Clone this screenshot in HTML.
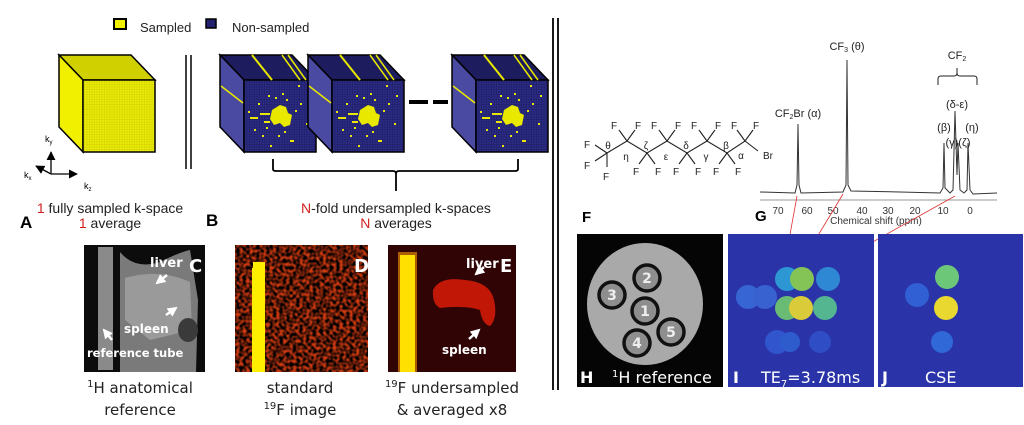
<!DOCTYPE html>
<html><head><meta charset="utf-8"><style>
html,body{margin:0;padding:0;background:#fff;}
svg{display:block;}
text{font-family:"Liberation Sans",sans-serif;}
.c{font-family:"DejaVu Sans","Liberation Sans",sans-serif;}
</style></head><body>
<svg width="1024" height="425" viewBox="0 0 1024 425" xmlns="http://www.w3.org/2000/svg">
<defs>
<pattern id="yg" width="2.5" height="2.5" patternUnits="userSpaceOnUse"><rect width="2.5" height="2.5" fill="#dada00"/><rect width="1.5" height="1.5" fill="#eeee10"/></pattern>
<pattern id="ng" width="2.5" height="2.5" patternUnits="userSpaceOnUse"><rect width="2.5" height="2.5" fill="#22226e"/><rect width="1.5" height="1.5" fill="#2e2e8a"/></pattern>
<filter id="noise" x="0" y="0" width="100%" height="100%">
<feTurbulence type="fractalNoise" baseFrequency="0.3" numOctaves="1" seed="3"/>
<feColorMatrix type="matrix" values="0 0 0 0 0  0 0 0 0 0  0 0 0 0 0  2.6 0 0 0 -0.75"/>
</filter>
<g id="nc">
<polygon points="0,0 72,0 96,25 24,25" fill="#1c1c5e" stroke="#000" stroke-width="1.5"/>
<polygon points="0,0 24,25 24,97 0,72" fill="#4a4aa2" stroke="#000" stroke-width="1.5"/>
<rect x="24" y="25" width="72" height="72" fill="url(#ng)" stroke="#000" stroke-width="1.5"/>
<line x1="32" y1="0" x2="52" y2="25" stroke="#e8e800" stroke-width="2"/>
<line x1="62" y1="0" x2="80" y2="25" stroke="#e8e800" stroke-width="1.5"/>
<line x1="68" y1="0" x2="86" y2="25" stroke="#e8e800" stroke-width="1.5"/>
<line x1="1" y1="31" x2="23" y2="48" stroke="#e8e800" stroke-width="1.5"/>
<polygon points="52,55 60,50 66,52 68,58 72,60 70,70 64,72 60,68 54,70 50,64" fill="#e8e800"/>
<g fill="#e8e800">
<rect x="40" y="58" width="10" height="2"/><rect x="30" y="62" width="8" height="2"/><rect x="44" y="66" width="6" height="2"/>
<rect x="55" y="42" width="2" height="2"/><rect x="62" y="38" width="2" height="2"/><rect x="66" y="44" width="2" height="2"/>
<rect x="48" y="40" width="2" height="2"/><rect x="75" y="55" width="2" height="2"/><rect x="80" y="48" width="2" height="2"/>
<rect x="38" y="48" width="2" height="2"/><rect x="58" y="80" width="2" height="2"/><rect x="70" y="85" width="4" height="2"/>
<rect x="42" y="80" width="2" height="2"/><rect x="86" y="68" width="2" height="2"/><rect x="50" y="90" width="2" height="2"/>
<rect x="78" y="30" width="2" height="2"/><rect x="88" y="40" width="2" height="2"/><rect x="34" y="74" width="2" height="2"/>
<rect x="64" y="76" width="2" height="2"/><rect x="46" y="72" width="2" height="2"/><rect x="28" y="56" width="2" height="2"/>
</g>
</g>
<marker id="ar" viewBox="0 0 10 10" refX="9" refY="5" markerWidth="7" markerHeight="7" orient="auto"><path d="M0,0 L10,5 L0,10 z" fill="#000"/></marker>
<marker id="rar" viewBox="0 0 10 10" refX="9" refY="5" markerWidth="6" markerHeight="6" orient="auto"><path d="M0,0 L10,5 L0,10 z" fill="#e02020"/></marker>
<marker id="war" viewBox="0 0 10 10" refX="8" refY="5" markerWidth="4" markerHeight="4" orient="auto"><path d="M0,0 L10,5 L0,10 z" fill="#fff"/></marker>
</defs>

<rect x="114" y="19" width="12" height="10" fill="#f0f000" stroke="#000" stroke-width="2"/>
<text x="140" y="32" font-size="13" fill="#222">Sampled</text>
<rect x="206" y="19" width="10" height="9" fill="#22226e" stroke="#000" stroke-width="1.5"/>
<text x="232" y="32" font-size="13" fill="#222">Non-sampled</text>

<polygon points="59,55 131,55 155,80 83,80" fill="#d0d000" stroke="#000" stroke-width="1.5"/>
<polygon points="59,55 83,80 83,152 59,127" fill="#f0f000" stroke="#000" stroke-width="1.5"/>
<rect x="83" y="80" width="72" height="72" fill="url(#yg)" stroke="#000" stroke-width="1.5"/>

<g stroke="#000" stroke-width="1.3" fill="none">
<line x1="51" y1="174" x2="51" y2="152" marker-end="url(#ar)"/>
<line x1="51" y1="174" x2="77" y2="174" marker-end="url(#ar)"/>
<line x1="51" y1="174" x2="36" y2="166" marker-end="url(#ar)"/>
</g>
<text x="45" y="142" font-size="9">k<tspan font-size="6" dy="2">y</tspan></text>
<text x="24" y="178" font-size="9">k<tspan font-size="6" dy="2">x</tspan></text>
<text x="84" y="189" font-size="9">k<tspan font-size="6" dy="2">z</tspan></text>

<line x1="186" y1="55" x2="186" y2="169" stroke="#000" stroke-width="1.5"/>
<line x1="191" y1="55" x2="191" y2="169" stroke="#000" stroke-width="1.5"/>

<use href="#nc" transform="translate(220,55)"/>
<use href="#nc" transform="translate(308,55)"/>
<rect x="409" y="100" width="19" height="4" fill="#000"/>
<rect x="433" y="100" width="15" height="4" fill="#000"/>
<use href="#nc" transform="translate(452,55)"/>

<path d="M273,159 L273,169 Q273,171 276,171 L393,171 Q396,171 396,174 L396,191 M396,174 Q396,171 399,171 L515,171 Q518,171 518,169 L518,159" stroke="#000" stroke-width="1.8" fill="none"/>

<text x="110" y="213" font-size="14" text-anchor="middle" fill="#222"><tspan fill="#d42020">1</tspan> fully sampled k-space</text>
<text x="110" y="228" font-size="14" text-anchor="middle" fill="#222"><tspan fill="#d42020">1</tspan> average</text>
<text x="20" y="228" font-size="17" font-weight="bold">A</text>
<text x="206" y="226" font-size="17" font-weight="bold">B</text>
<text x="396" y="213" font-size="14" text-anchor="middle" fill="#222"><tspan fill="#d42020">N</tspan>-fold undersampled k-spaces</text>
<text x="396" y="228" font-size="14" text-anchor="middle" fill="#222"><tspan fill="#d42020">N</tspan> averages</text>

<rect x="84" y="245" width="121" height="127" fill="#0c0c0c"/>
<rect x="98" y="247" width="15" height="123" fill="#8a8a8a"/>
<path d="M120,252 Q135,270 160,262 Q180,252 190,250 L198,300 L196,372 L120,372 Z" fill="#7a7a7a"/>
<path d="M125,278 Q160,268 190,282 L192,330 L150,340 L125,320 Z" fill="#9a9a9a"/>
<ellipse cx="188" cy="330" rx="10" ry="12" fill="#3a3a3a"/>
<text x="150" y="267" font-size="13" font-weight="bold" fill="#fff" class="c">liver</text>
<text x="189" y="272" font-size="18" font-weight="bold" fill="#fff" class="c">C</text>
<text x="124" y="333" font-size="12" font-weight="bold" fill="#fff" class="c">spleen</text>
<text x="87" y="357" font-size="11.5" font-weight="bold" fill="#fff" class="c">reference tube</text>
<g stroke="#fff" stroke-width="2.5">
<line x1="167" y1="275" x2="157" y2="283" marker-end="url(#war)"/>
<line x1="166" y1="315" x2="176" y2="308" marker-end="url(#war)"/>
<line x1="112" y1="340" x2="104" y2="330" marker-end="url(#war)"/>
</g>

<rect x="235" y="245" width="133" height="127" fill="#d03a10"/>
<rect x="235" y="245" width="133" height="127" fill="#ffd020" filter="url(#noise)"/>
<rect x="252" y="268" width="13" height="104" fill="#ffee00"/>
<rect x="253" y="262" width="12" height="8" fill="#ffee00"/>
<text x="354" y="272" font-size="18" font-weight="bold" fill="#fff" class="c">D</text>

<rect x="388" y="245" width="128" height="127" fill="#300404"/>
<rect x="398" y="252" width="19" height="120" fill="#ff9a00" opacity="0.6"/>
<rect x="400" y="255" width="15" height="117" fill="#ffe000"/>
<path d="M433,290 Q440,276 465,280 Q490,282 494,300 Q498,318 490,326 Q482,324 480,310 Q465,305 440,308 Q432,304 433,290 Z" fill="#d01a08" opacity="0.9"/>
<text x="466" y="268" font-size="13" font-weight="bold" fill="#fff" class="c">liver</text>
<text x="500" y="272" font-size="18" font-weight="bold" fill="#fff" class="c">E</text>
<text x="442" y="354" font-size="12" font-weight="bold" fill="#fff" class="c">spleen</text>
<g stroke="#fff" stroke-width="2.5">
<line x1="484" y1="267" x2="476" y2="274" marker-end="url(#war)"/>
<line x1="469" y1="339" x2="479" y2="330" marker-end="url(#war)"/>
</g>

<g font-size="15" fill="#222" text-anchor="middle" class="c">
<text x="140" y="393" class="c"><tspan font-size="10" dy="-6">1</tspan><tspan dy="6">H anatomical</tspan></text>
<text x="140" y="415" class="c">reference</text>
<text x="300" y="393" class="c">standard</text>
<text x="300" y="415" class="c"><tspan font-size="10" dy="-6">19</tspan><tspan dy="6">F image</tspan></text>
<text x="452" y="393" class="c"><tspan font-size="10" dy="-6">19</tspan><tspan dy="6">F undersampled</tspan></text>
<text x="452" y="415" class="c">&amp; averaged x8</text>
</g>

<line x1="553" y1="18" x2="553" y2="390" stroke="#000" stroke-width="1.8"/>
<line x1="558" y1="18" x2="558" y2="390" stroke="#000" stroke-width="1.8"/>

<g stroke="#222" stroke-width="1.1" fill="none">
<polyline points="607,153 627,141 647,153 667,141 687,153 707,141 727,153 745,141 758,151"/>
<line x1="607" y1="153" x2="595" y2="145"/><line x1="607" y1="153" x2="595" y2="161"/><line x1="607" y1="153" x2="607" y2="167"/>
<line x1="627" y1="141" x2="619" y2="130"/><line x1="627" y1="141" x2="635" y2="130"/>
<line x1="647" y1="153" x2="639" y2="164"/><line x1="647" y1="153" x2="655" y2="164"/>
<line x1="667" y1="141" x2="659" y2="130"/><line x1="667" y1="141" x2="675" y2="130"/>
<line x1="687" y1="153" x2="679" y2="164"/><line x1="687" y1="153" x2="695" y2="164"/>
<line x1="707" y1="141" x2="699" y2="130"/><line x1="707" y1="141" x2="715" y2="130"/>
<line x1="727" y1="153" x2="719" y2="164"/><line x1="727" y1="153" x2="735" y2="164"/>
<line x1="745" y1="141" x2="737" y2="130"/><line x1="745" y1="141" x2="753" y2="130"/>
</g>
<g font-size="10" fill="#222" text-anchor="middle">
<text x="587" y="148">F</text><text x="587" y="169">F</text><text x="606" y="180">F</text>
<text x="614" y="129">F</text><text x="638" y="129">F</text><text x="654" y="129">F</text><text x="678" y="129">F</text>
<text x="694" y="129">F</text><text x="718" y="129">F</text><text x="734" y="129">F</text><text x="756" y="129">F</text>
<text x="636" y="175">F</text><text x="658" y="175">F</text><text x="676" y="175">F</text><text x="698" y="175">F</text>
<text x="716" y="175">F</text><text x="738" y="175">F</text>
<text x="768" y="159">Br</text>
<text x="608" y="149">θ</text><text x="626" y="160">η</text><text x="646" y="149">ζ</text><text x="666" y="160">ε</text>
<text x="686" y="149">δ</text><text x="706" y="160">γ</text><text x="726" y="149">β</text><text x="741" y="159">α</text>
</g>
<text x="582" y="222" font-size="15" font-weight="bold">F</text>

<line x1="760" y1="200" x2="997" y2="200" stroke="#999" stroke-width="1"/>
<polyline fill="none" stroke="#333" stroke-width="1" points="760,192 795,193 797,185 798,124 799,185 801,193 843,192 846,185 847,60 848,185 851,191 900,192 940,193 943,188 944,143 945,188 950,193 953,190 955,111 957,175 958,143 960,190 964,193 967,190 968,143 970,190 973,194 997,193"/>
<g font-size="10" fill="#333" text-anchor="middle">
<text x="778" y="214">70</text><text x="807" y="214">60</text><text x="833" y="214">50</text><text x="862" y="214">40</text>
<text x="888" y="214">30</text><text x="915" y="214">20</text><text x="943" y="214">10</text><text x="970" y="214">0</text>
<text x="876" y="224" font-size="10">Chemical shift (ppm)</text>
</g>
<text x="755" y="221" font-size="15" font-weight="bold">G</text>
<g font-size="11" fill="#222" text-anchor="middle">
<text x="847" y="50">CF<tspan font-size="7" dy="2">3</tspan><tspan dy="-2"> (θ)</tspan></text>
<text x="798" y="117">CF<tspan font-size="7" dy="2">2</tspan><tspan dy="-2">Br (α)</tspan></text>
<text x="957" y="59">CF<tspan font-size="7" dy="2">2</tspan></text>
<text x="957" y="108">(δ-ε)</text>
<text x="944" y="131">(β)</text><text x="972" y="131">(η)</text>
<text x="958" y="146">(γ)(ζ)</text>
</g>
<path d="M938,85 L938,79 Q938,76 941,76 L954,76 Q957,76 957,73 L957,68 M957,73 Q957,76 960,76 L974,76 Q977,76 977,79 L977,85" stroke="#222" stroke-width="1" fill="none"/>

<g stroke="#e03030" stroke-width="0.8">
<line x1="797" y1="196" x2="785" y2="262" marker-end="url(#rar)"/>
<line x1="843" y1="194" x2="802" y2="262" marker-end="url(#rar)"/>
<line x1="955" y1="196" x2="835" y2="263" marker-end="url(#rar)"/>
</g>

<rect x="577" y="234" width="146" height="153" fill="#050505"/>
<ellipse cx="645" cy="304" rx="58" ry="61" fill="#a9a9a9"/>
<g stroke="#111" stroke-width="3.5" fill="#8e8e8e">
<circle cx="647" cy="278" r="13"/><circle cx="612" cy="295" r="13"/><circle cx="645" cy="311" r="13"/>
<circle cx="671" cy="332" r="13"/><circle cx="637" cy="343" r="13"/>
</g>
<g font-size="14" font-weight="bold" fill="#eee" text-anchor="middle" class="c">
<text x="647" y="283" class="c">2</text><text x="612" y="300" class="c">3</text><text x="645" y="316" class="c">1</text>
<text x="671" y="337" class="c">5</text><text x="637" y="348" class="c">4</text>
</g>
<text x="580" y="383" font-size="16" font-weight="bold" fill="#fff" class="c">H</text>
<text x="612" y="383" font-size="16" fill="#fff" class="c"><tspan font-size="10" dy="-6">1</tspan><tspan dy="6">H reference</tspan></text>

<rect x="728" y="234" width="146" height="153" fill="#2a34a8"/>
<g opacity="0.92">
<circle cx="748" cy="297" r="12" fill="#3a6ad8"/><circle cx="765" cy="297" r="12" fill="#3a66d4"/>
<circle cx="787" cy="279" r="12" fill="#2ea0d8"/><circle cx="802" cy="279" r="12" fill="#8cd050"/>
<circle cx="828" cy="279" r="12" fill="#3090d8"/>
<circle cx="787" cy="308" r="12" fill="#70c870"/><circle cx="801" cy="308" r="12" fill="#e8d830"/>
<circle cx="825" cy="308" r="12" fill="#58c090"/>
<circle cx="777" cy="342" r="12" fill="#3258d0"/><circle cx="790" cy="342" r="10" fill="#3060d0"/>
<circle cx="820" cy="342" r="11" fill="#3050c8"/>
</g>
<text x="733" y="383" font-size="16" font-weight="bold" fill="#fff" class="c">I</text>
<text x="761" y="383" font-size="16" fill="#fff" class="c">TE<tspan font-size="10" dy="4">7</tspan><tspan dy="-4">=3.78ms</tspan></text>

<rect x="878" y="234" width="145" height="153" fill="#2a34a8"/>
<circle cx="947" cy="277" r="12" fill="#6cc878"/>
<circle cx="917" cy="295" r="12" fill="#3060d4"/>
<circle cx="946" cy="308" r="12" fill="#e8d830"/>
<circle cx="942" cy="342" r="11" fill="#3068d8"/>
<text x="882" y="383" font-size="16" font-weight="bold" fill="#fff" class="c">J</text>
<text x="925" y="383" font-size="16" fill="#fff" class="c">CSE</text>
</svg>
</body></html>
